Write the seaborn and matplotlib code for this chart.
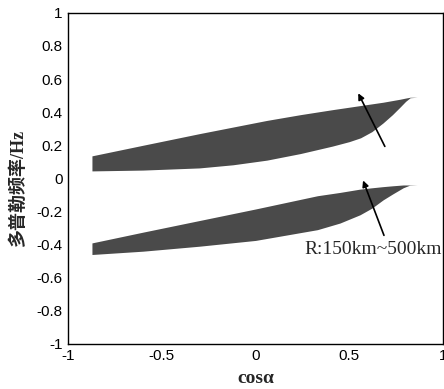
import numpy as np
import matplotlib.pyplot as plt
import seaborn as sns

sns.set_theme(style='white')
plt.rcParams['font.family'] = ['Liberation Sans', 'DejaVu Sans']

# upper band (positive doppler), envelope
x_up = [-0.872, -0.6, -0.3, -0.12, 0.06, 0.24, 0.41, 0.5, 0.56, 0.62, 0.68, 0.73, 0.77, 0.80, 0.824, 0.862]
top_up = [0.136, 0.20, 0.27, 0.31, 0.35, 0.385, 0.415, 0.43, 0.44, 0.45, 0.46, 0.47, 0.478, 0.485, 0.49, 0.49]
bot_up = [0.045, 0.05, 0.063, 0.082, 0.11, 0.15, 0.195, 0.222, 0.245, 0.282, 0.335, 0.385, 0.43, 0.465, 0.487, 0.49]

# lower band (negative doppler)
x_low = [-0.872, -0.6, -0.3, 0.0, 0.33, 0.45, 0.557, 0.62, 0.68, 0.73, 0.787, 0.82, 0.862]
top_low = [-0.39, -0.325, -0.255, -0.185, -0.105, -0.085, -0.065, -0.057, -0.05, -0.045, -0.04, -0.04, -0.04]
bot_low = [-0.46, -0.44, -0.41, -0.375, -0.31, -0.27, -0.22, -0.18, -0.13, -0.095, -0.057, -0.042, -0.04]

ticks_x = [-1, -0.5, 0, 0.5, 1]
ticks_y = [-1, -0.8, -0.6, -0.4, -0.2, 0, 0.2, 0.4, 0.6, 0.8, 1]
band_color = '#4a4a4a'

fig = plt.figure(figsize=(4.44, 3.89), dpi=100)
ax = fig.add_axes([0.153, 0.116, 0.845, 0.851])

ax.fill_between(x_up, bot_up, top_up, color=band_color, lw=0)
ax.fill_between(x_low, bot_low, top_low, color=band_color, lw=0)

#arrows showing the direction of increasing R
ax.annotate('', xy=(0.541, 0.529), xytext=(0.696, 0.178),
            arrowprops=dict(arrowstyle='-|>', color='black', lw=1.2, mutation_scale=9))
ax.annotate('', xy=(0.568, 0.003), xytext=(0.69, -0.36),
            arrowprops=dict(arrowstyle='-|>', color='black', lw=1.2, mutation_scale=9))
ax.text(0.262, -0.43, 'R:150km~500km', fontsize=14, family='Liberation Serif', va='center', ha='left')

ax.set_xlim(-1, 1)
ax.set_ylim(-1, 1)
ax.set_xticks(ticks_x)
ax.set_xticklabels(['-1', '-0.5', '0', '0.5', '1'])
ax.set_yticks(ticks_y)
ax.set_yticklabels(['-1', '-0.8', '-0.6', '-0.4', '-0.2', '0', '0.2', '0.4', '0.6', '0.8', '1'])
ax.tick_params(direction='in', length=4, width=1, labelsize=11, colors='black', pad=4)
for s in ax.spines.values():
    s.set_color('black')
    s.set_linewidth(1)

ax.set_xlabel('cosα', fontsize=14, fontweight='bold', family=['Liberation Serif', 'DejaVu Serif'], labelpad=5)
ax.set_ylabel('多普勒频率/Hz', fontsize=13, fontweight='bold',
              family=['Liberation Serif', 'Noto Sans CJK SC'])
ax.yaxis.set_label_coords(-0.11, 0.47)

fig.savefig('out.png', dpi=100)
